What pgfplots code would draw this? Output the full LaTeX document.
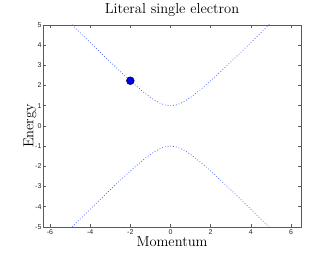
\documentclass[border=0pt]{standalone}
\usepackage{fontspec}
\usepackage{pgfplots}
\pgfplotsset{compat=1.18}
\newfontfamily\tickfont{Liberation Sans}
\definecolor{dotblue}{rgb}{0.25,0.35,1}
\pgfplotstableread{
p E
-5.00 5.0990
-4.75 4.8541
-4.50 4.6098
-4.25 4.3661
-4.00 4.1231
-3.75 3.8810
-3.50 3.6401
-3.25 3.4004
-3.00 3.1623
-2.75 2.9262
-2.50 2.6926
-2.25 2.4622
-2.00 2.2361
-1.75 2.0156
-1.50 1.8028
-1.25 1.6008
-1.00 1.4142
-0.75 1.2500
-0.50 1.1180
-0.25 1.0308
0.00 1.0000
0.25 1.0308
0.50 1.1180
0.75 1.2500
1.00 1.4142
1.25 1.6008
1.50 1.8028
1.75 2.0156
2.00 2.2361
2.25 2.4622
2.50 2.6926
2.75 2.9262
3.00 3.1623
3.25 3.4004
3.50 3.6401
3.75 3.8810
4.00 4.1231
4.25 4.3661
4.50 4.6098
4.75 4.8541
5.00 5.0990
}\uppertab
\pgfplotstableread{
p E
-5.00 -5.0990
-4.75 -4.8541
-4.50 -4.6098
-4.25 -4.3661
-4.00 -4.1231
-3.75 -3.8810
-3.50 -3.6401
-3.25 -3.4004
-3.00 -3.1623
-2.75 -2.9262
-2.50 -2.6926
-2.25 -2.4622
-2.00 -2.2361
-1.75 -2.0156
-1.50 -1.8028
-1.25 -1.6008
-1.00 -1.4142
-0.75 -1.2500
-0.50 -1.1180
-0.25 -1.0308
0.00 -1.0000
0.25 -1.0308
0.50 -1.1180
0.75 -1.2500
1.00 -1.4142
1.25 -1.6008
1.50 -1.8028
1.75 -2.0156
2.00 -2.2361
2.25 -2.4622
2.50 -2.6926
2.75 -2.9262
3.00 -3.1623
3.25 -3.4004
3.50 -3.6401
3.75 -3.8810
4.00 -4.1231
4.25 -4.3661
4.50 -4.6098
4.75 -4.8541
5.00 -5.0990
}\lowertab
\begin{document}
\begin{tikzpicture}
\begin{axis}[
  scale only axis,
  width=258pt, height=202pt,
  xmin=-6.35, xmax=6.5,
  ymin=-5, ymax=5,
  xtick={-6,-4,...,6},
  ytick={-5,-4,...,5},
  tick align=inside,
  major tick length=3pt,
  axis line style={line width=0.6pt, black!65},
  tick style={black!65, line width=0.4pt},
  tick label style={font=\tickfont\fontsize{7}{8}\selectfont, text=black!85},
  /pgf/number format/assume math mode=true,
  xticklabel style={yshift=1pt},
  yticklabel style={xshift=2pt},
  title={Literal single electron},
  title style={font=\fontsize{14.5}{15}\selectfont, yshift=-1pt},
  xlabel={Momentum},
  ylabel={Energy},
  xlabel style={font=\fontsize{14.5}{15}\selectfont, yshift=5pt},
  ylabel style={font=\fontsize{14.5}{15}\selectfont, yshift=-8pt},
  clip=true,
]
\addplot[dotblue, line width=0.8pt, dash pattern=on 0.7pt off 2.1pt] table[x=p, y=E] {\uppertab};
\addplot[dotblue, line width=0.8pt, dash pattern=on 0.7pt off 2.1pt] table[x=p, y=E] {\lowertab};
\addplot[only marks, mark=*, mark size=3.9pt, mark options={fill=blue!90!black, draw=blue!35!black, line width=0.5pt}] coordinates {(-2,2.2361)};
\end{axis}
\path ([xshift=-43pt,yshift=-29pt]current axis.south west) rectangle ([xshift=31pt,yshift=19pt]current axis.north east);
\end{tikzpicture}
\end{document}
